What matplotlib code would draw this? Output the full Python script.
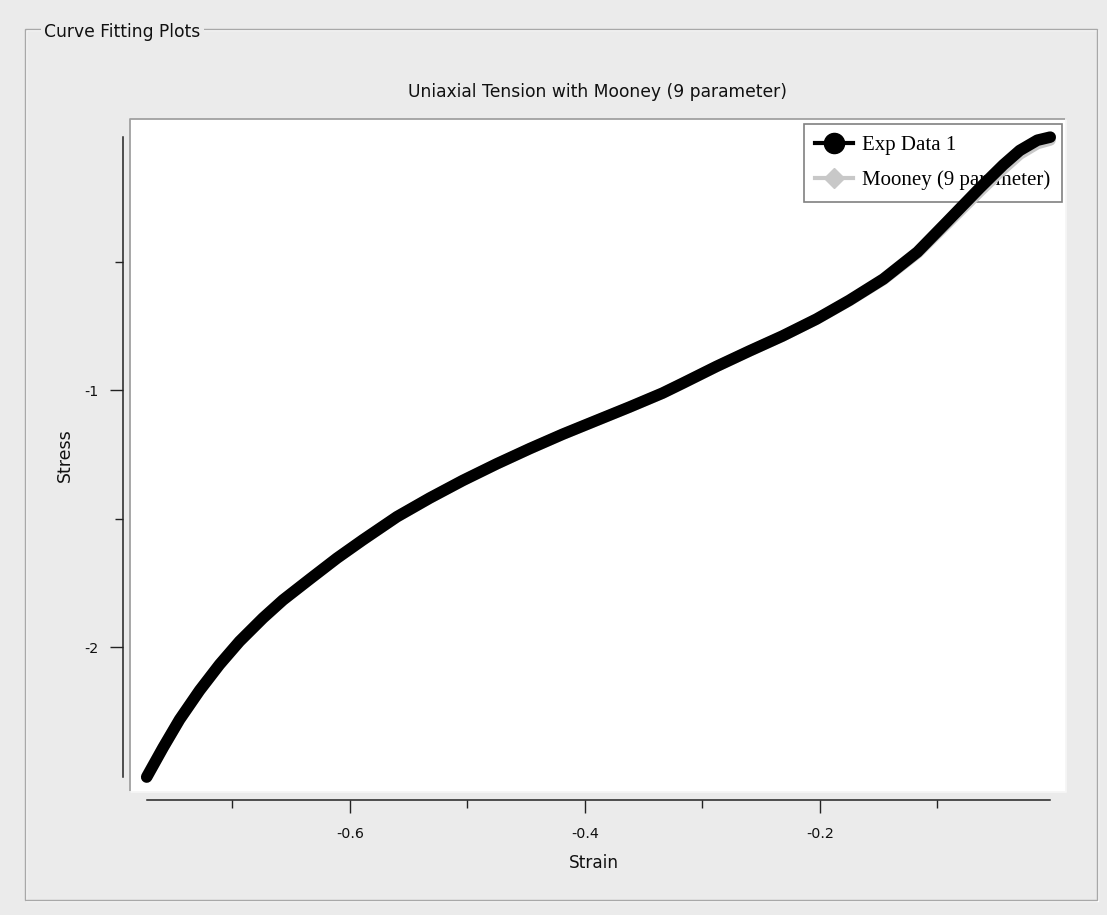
import matplotlib
matplotlib.use("Agg")
import matplotlib.pyplot as plt
from matplotlib.lines import Line2D
from matplotlib.patches import Rectangle
from matplotlib.ticker import FixedLocator, FormatStrFormatter

# ---------------- data ----------------
strain = [-0.773, -0.759, -0.745, -0.728, -0.711, -0.694, -0.674, -0.657, -0.634,
          -0.611, -0.589, -0.560, -0.532, -0.504, -0.475, -0.447, -0.419, -0.390,
          -0.362, -0.334, -0.317, -0.288, -0.260, -0.232, -0.203, -0.175, -0.146,
          -0.117, -0.092, -0.064, -0.044, -0.030, -0.015, -0.004]
exp_stress = [-2.506, -2.391, -2.282, -2.169, -2.068, -1.978, -1.887, -1.817, -1.735,
              -1.654, -1.583, -1.493, -1.420, -1.352, -1.287, -1.228, -1.172, -1.118,
              -1.066, -1.012, -0.974, -0.908, -0.848, -0.790, -0.724, -0.651, -0.568,
              -0.463, -0.346, -0.214, -0.124, -0.068, -0.028, -0.016]
mooney_stress = [-2.503, -2.390, -2.283, -2.170, -2.069, -1.979, -1.889, -1.818, -1.736,
                 -1.655, -1.584, -1.494, -1.421, -1.353, -1.288, -1.229, -1.173, -1.119,
                 -1.067, -1.013, -0.975, -0.909, -0.849, -0.791, -0.725, -0.653, -0.571,
                 -0.468, -0.355, -0.228, -0.140, -0.083, -0.042, -0.028]

series_labels = ["Exp Data 1", "Mooney (9 parameter)"]
title = "Uniaxial Tension with Mooney (9 parameter)"
group_title = "Curve Fitting Plots"
x_label = "Strain"
y_label = "Stress"
x_major = [-0.6, -0.4, -0.2]
x_minor = [-0.7, -0.5, -0.3, -0.1]
y_major = [-2, -1]
y_minor = [-1.5, -0.5]

# ---------------- figure ----------------
plt.rcParams["font.family"] = ["DejaVu Sans"]
plt.rcParams["axes.unicode_minus"] = False

BG = "#ebebeb"
W, H = 1107, 915
fig = plt.figure(figsize=(W / 100, H / 100), dpi=100, facecolor=BG)


def fx(px):
    return px / W


def fy(py):
    return 1 - py / H


# etched group box
fig.add_artist(Rectangle((fx(26), fy(901)), fx(1098) - fx(26), fy(30) - fy(901),
                         transform=fig.transFigure, fill=False, ec="white", lw=1.0))
fig.add_artist(Rectangle((fx(25), fy(900)), fx(1097) - fx(25), fy(29) - fy(900),
                         transform=fig.transFigure, fill=False, ec="#a8a8a8", lw=1.0))
fig.text(fx(44), fy(32), group_title, ha="left", va="center", fontsize=12.3,
         color="#111111", bbox=dict(fc=BG, ec="none", pad=2.5), zorder=5)

ax = fig.add_axes([fx(130), fy(792), fx(1066) - fx(130), fy(119) - fy(792)])
ax.set_facecolor("white")
ax.set_xlim(-0.7872, 0.0094)
ax.set_ylim(-2.564, 0.0545)

ax.plot(strain, mooney_stress, color="#c8c8c8", lw=8, solid_capstyle="round",
        solid_joinstyle="round", zorder=3)
ax.plot(strain, exp_stress, color="black", lw=8.3, solid_capstyle="round",
        solid_joinstyle="round", zorder=4)

# offset spines
for s in ("top", "right"):
    ax.spines[s].set_visible(False)
ax.spines["left"].set_position(("outward", 5))
ax.spines["bottom"].set_position(("outward", 6))
ax.spines["left"].set_bounds(min(exp_stress), max(exp_stress))
ax.spines["bottom"].set_bounds(min(strain), max(strain))
for s in ("left", "bottom"):
    ax.spines[s].set_color("#222222")
    ax.spines[s].set_linewidth(1.1)

# bevel of the white plot box
ax.add_line(Line2D([0, 0, 1], [0, 1, 1], transform=ax.transAxes, color="#a0a0a0",
                   lw=1.3, clip_on=False, zorder=6))
ax.add_line(Line2D([0, 1, 1], [0, 0, 1], transform=ax.transAxes, color="#f6f6f6",
                   lw=1.3, clip_on=False, zorder=6))

ax.xaxis.set_major_locator(FixedLocator(x_major))
ax.xaxis.set_minor_locator(FixedLocator(x_minor))
ax.yaxis.set_major_locator(FixedLocator(y_major))
ax.yaxis.set_minor_locator(FixedLocator(y_minor))
ax.xaxis.set_major_formatter(FormatStrFormatter("%g"))
ax.yaxis.set_major_formatter(FormatStrFormatter("%g"))
ax.tick_params(which="major", length=9.4, width=1.0, color="#222222",
               labelsize=10.3, labelcolor="#111111")
ax.tick_params(which="minor", length=5.8, width=1.0, color="#222222")
ax.tick_params(axis="x", which="major", pad=9.5)
ax.tick_params(axis="y", which="major", pad=8)

ax.set_xlabel(x_label, fontsize=12.2, color="#111111")
ax.xaxis.label.set_va("center")
ax.xaxis.set_label_coords((594 - 130) / 936, (792 - 863) / 673)
ax.set_ylabel(y_label, fontsize=12.5, color="#111111")
ax.yaxis.label.set_va("center")
ax.yaxis.set_label_coords((65 - 130) / 936, (792 - 455) / 673)

ax.set_title(title, fontsize=12.3, color="#111111", y=(792 - 92) / 673, pad=0, va="center")

# legend (drawn beneath the curves, as in the reference)
h1 = Line2D([], [], color="black", lw=3, marker="o", ms=14.5, mfc="black", mec="black")
h2 = Line2D([], [], color="#c8c8c8", lw=3, marker="D", ms=10, mfc="#c8c8c8", mec="#c8c8c8")
leg = ax.legend([h1, h2], series_labels, loc="upper right",
                bbox_to_anchor=(fx(1062), fy(124)), bbox_transform=fig.transFigure,
                borderaxespad=0, frameon=True, fancybox=False, framealpha=1,
                edgecolor="#808080", prop={"family": "Liberation Serif", "size": 15},
                handlelength=1.83, handletextpad=0.43, labelspacing=0.74, borderpad=0.55)
leg.get_frame().set_linewidth(1.2)
leg.set_zorder(2)

fig.savefig("out.png", dpi=100, facecolor=BG)
